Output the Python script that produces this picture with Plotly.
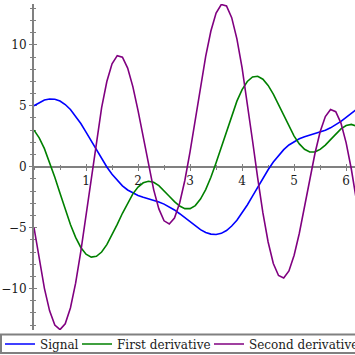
import plotly.graph_objects as go

# ---------------- data ----------------
x_vals = [0.0, 0.1, 0.2, 0.3, 0.4, 0.5, 0.6, 0.7, 0.8, 0.9,
          1.0, 1.1, 1.2, 1.3, 1.4, 1.5, 1.6, 1.7, 1.8, 1.9,
          2.0, 2.1, 2.2, 2.3, 2.4, 2.5, 2.6, 2.7, 2.8, 2.9,
          3.0, 3.1, 3.2, 3.3, 3.4, 3.5, 3.6, 3.7, 3.8, 3.9,
          4.0, 4.1, 4.2, 4.3, 4.4, 4.5, 4.6, 4.7, 4.8, 4.9,
          5.0, 5.1, 5.2, 5.3, 5.4, 5.5, 5.6, 5.7, 5.8, 5.9,
          6.0, 6.1, 6.2, 6.3]

signal = [5.00, 5.27, 5.47, 5.56, 5.54, 5.39, 5.10, 4.69, 4.16, 3.54,
          2.84, 2.11, 1.37, 0.65, -0.02, -0.62, -1.14, -1.57, -1.91, -2.17,
          -2.36, -2.51, -2.63, -2.75, -2.89, -3.07, -3.29, -3.55, -3.86, -4.19,
          -4.54, -4.87, -5.17, -5.40, -5.53, -5.56, -5.47, -5.24, -4.87, -4.39,
          -3.80, -3.14, -2.42, -1.68, -0.94, -0.25, 0.38, 0.94, 1.40, 1.78,
          2.07, 2.29, 2.45, 2.58, 2.70, 2.83, 2.99, 3.19, 3.43, 3.72,
          4.05, 4.39, 4.74, 5.05]

first_derivative = [3.00, 2.37, 1.48, 0.39, -0.86, -2.18, -3.50, -4.74, -5.80, -6.63,
                    -7.18, -7.42, -7.35, -7.00, -6.40, -5.62, -4.74, -3.82, -2.96, -2.23,
                    -1.67, -1.32, -1.19, -1.28, -1.55, -1.95, -2.42, -2.87, -3.23, -3.44,
                    -3.44, -3.19, -2.66, -1.88, -0.87, 0.33, 1.63, 2.96, 4.24, 5.38,
                    6.32, 6.99, 7.36, 7.42, 7.18, 6.67, 5.96, 5.11, 4.20, 3.31,
                    2.51, 1.87, 1.43, 1.21, 1.22, 1.42, 1.77, 2.22, 2.69, 3.10,
                    3.38, 3.47, 3.32, 2.91]

second_derivative = [-5.00, -7.63, -9.98, -11.83, -12.99, -13.37, -12.89, -11.59, -9.56, -6.95,
                     -3.97, -0.85, 2.17, 4.85, 6.99, 8.44, 9.11, 8.98, 8.09, 6.57,
                     4.60, 2.37, 0.14, -1.88, -3.46, -4.44, -4.70, -4.21, -2.98, -1.11,
                     1.24, 3.88, 6.56, 9.06, 11.13, 12.60, 13.31, 13.19, 12.23, 10.49,
                     8.10, 5.24, 2.15, -0.94, -3.79, -6.18, -7.94, -8.93, -9.13, -8.55,
                     -7.27, -5.46, -3.31, -1.05, 1.08, 2.87, 4.11, 4.69, 4.51, 3.58,
                     1.96, -0.21, -2.76, -5.45]

series_names = ["Signal", "First derivative", "Second derivative"]
x_tick_vals = [1, 2, 3, 4, 5, 6]
y_tick_vals = [-10, -5, 0, 5, 10]

# ---------------- layout / style ----------------
W, H = 355, 355
ML, MR, MT, MB = 34, 0, 4, 25
x_range = [0, 6.17]
y_range = [-13.4, 13.35]
x_axis_pos = (0 - y_range[0]) / (y_range[1] - y_range[0])

colors = ["#0000ff", "#008000", "#800080"]
axis_color = "#808080"
font_family = "DejaVu Serif"
text_color = "#1a1a1a"
legend_ids = ["legend", "legend2", "legend3"]
legend_x_px = [0, 77, 209]
legend_y_px = 344

fig = go.Figure()
for ys, name, color, lg in zip([signal, first_derivative, second_derivative],
                               series_names, colors, legend_ids):
    fig.add_trace(go.Scatter(x=x_vals, y=ys, mode="lines", name=name,
                             line=dict(color=color, width=1.6), legend=lg,
                             hoverinfo="skip"))
# empty trace so the overlay axes (for crossing ticks) get drawn
fig.add_trace(go.Scatter(x=[None], y=[None], xaxis="x2", yaxis="y2",
                         showlegend=False, hoverinfo="skip"))

tickfont = dict(family=font_family, size=12, color=text_color)

fig.update_layout(
    width=W, height=H,
    margin=dict(l=ML, r=MR, t=MT, b=MB, autoexpand=False),
    paper_bgcolor="white", plot_bgcolor="white",
    xaxis=dict(range=x_range, showgrid=False, zeroline=False,
               anchor="free", position=x_axis_pos,
               showline=True, linecolor=axis_color, linewidth=2,
               tickmode="array", tickvals=x_tick_vals,
               ticks="outside", ticklen=3, tickwidth=1, tickcolor=axis_color,
               tickfont=tickfont, layer="below traces",
               minor=dict(tickmode="linear", tick0=0, dtick=0.5, ticks="outside",
                          ticklen=2, tickwidth=1, tickcolor=axis_color, showgrid=False)),
    xaxis2=dict(range=x_range, overlaying="x", showgrid=False, zeroline=False,
                anchor="free", position=x_axis_pos, showline=False,
                tickmode="array", tickvals=x_tick_vals,
                ticks="inside", ticklen=3, tickwidth=1, tickcolor=axis_color,
                showticklabels=False, layer="below traces",
                minor=dict(tickmode="linear", tick0=0, dtick=0.5, ticks="inside",
                           ticklen=2, tickwidth=1, tickcolor=axis_color, showgrid=False)),
    yaxis=dict(range=y_range, showgrid=False, zeroline=False,
               showline=True, linecolor=axis_color, linewidth=2,
               tickmode="array", tickvals=y_tick_vals,
               ticks="outside", ticklen=3, tickwidth=1, tickcolor=axis_color,
               tickfont=tickfont, layer="below traces",
               minor=dict(tickmode="linear", tick0=0, dtick=1, ticks="outside",
                          ticklen=2, tickwidth=1, tickcolor=axis_color, showgrid=False)),
    yaxis2=dict(range=y_range, overlaying="y", anchor="x2", side="left",
                showgrid=False, zeroline=False, showline=False,
                tickmode="array", tickvals=y_tick_vals,
                ticks="inside", ticklen=3, tickwidth=1, tickcolor=axis_color,
                showticklabels=False, layer="below traces",
                minor=dict(tickmode="linear", tick0=0, dtick=1, ticks="inside",
                           ticklen=2, tickwidth=1, tickcolor=axis_color, showgrid=False)),
    showlegend=True,
)

for lg, lx in zip(legend_ids, legend_x_px):
    fig.update_layout({lg: dict(orientation="h", xref="container", yref="container",
                                x=lx / W, y=(H - legend_y_px) / H,
                                xanchor="left", yanchor="middle",
                                font=dict(family=font_family, size=12, color=text_color),
                                bgcolor="rgba(0,0,0,0)", borderwidth=0, itemwidth=30)})

# legend frame (one box around all three legends)
plot_h = H - MT - MB
plot_w = W - ML - MR
box_top_px, box_bot_px = 334.5, 353
fig.add_shape(type="rect", xref="paper", yref="paper",
              x0=(1 - ML) / plot_w, x1=1.2,
              y0=(H - MB - box_bot_px) / plot_h, y1=(H - MB - box_top_px) / plot_h,
              line=dict(color=axis_color, width=2), fillcolor="rgba(0,0,0,0)",
              layer="below")

# remove the page's default 8px body margin so the 355x355 figure fills the window
fig.write_html("out.html",
               config={"displayModeBar": False, "staticPlot": True},
               post_script="document.body.style.margin='0';"
                           "document.body.style.overflow='hidden';")
